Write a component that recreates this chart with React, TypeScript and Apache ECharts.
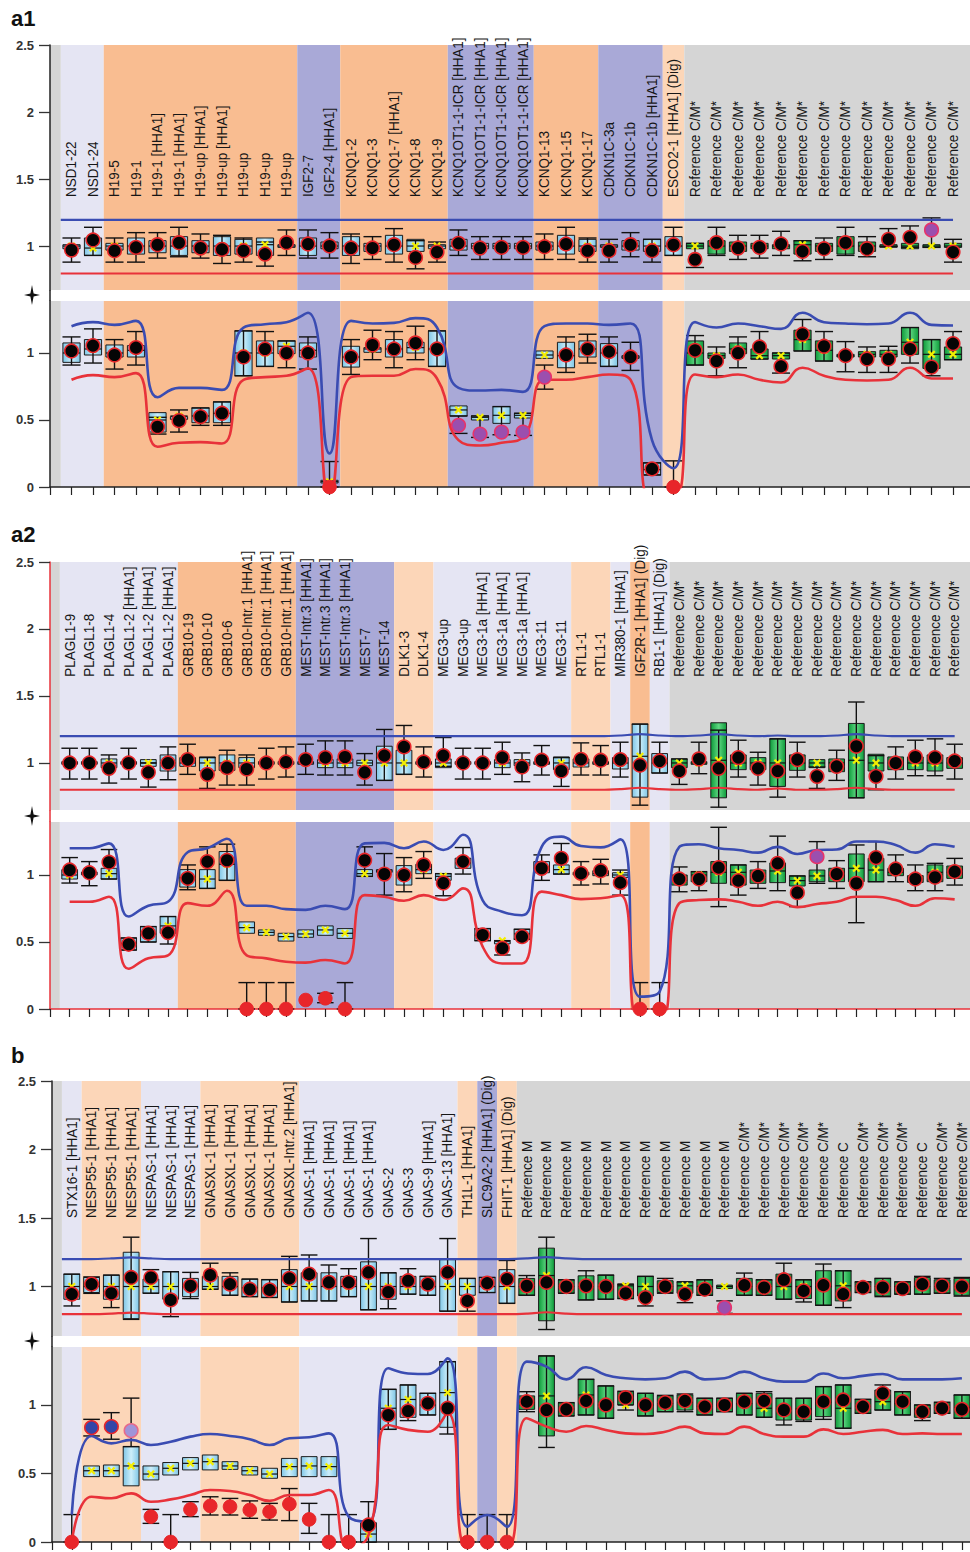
import React, { useEffect, useRef } from "react";
import * as echarts from "echarts";

// Row: [patient value, box low, box high, mean, whisker low, whisker high, dot kind]
type Row = [number | null, number | null, number | null, number | null, number | null, number | null, string];
type Group = [number, number, string];

// ---------------- a1 ----------------
const a1Labels: string[] = [
  "NSD1-22", "NSD1-24", "H19-5", "H19-1", "H19-1 [HHA1]", "H19-1 [HHA1]", "H19-up [HHA1]", "H19-up [HHA1]",
  "H19-up", "H19-up", "H19-up", "IGF2-7", "IGF2-4 [HHA1]", "KCNQ1-2", "KCNQ1-3", "KCNQ1-7 [HHA1]", "KCNQ1-8",
  "KCNQ1-9", "KCNQ1OT1-1-ICR [HHA1]", "KCNQ1OT1-1-ICR [HHA1]", "KCNQ1OT1-1-ICR [HHA1]", "KCNQ1OT1-1-ICR [HHA1]",
  "KCNQ1-13", "KCNQ1-15", "KCNQ1-17", "CDKN1C-3a", "CDKN1C-1b", "CDKN1C-1b [HHA1]", "ESCO2-1 [HHA1] (Dig)",
  "Reference C/M*", "Reference C/M*", "Reference C/M*", "Reference C/M*", "Reference C/M*", "Reference C/M*",
  "Reference C/M*", "Reference C/M*", "Reference C/M*", "Reference C/M*", "Reference C/M*", "Reference C/M*",
  "Reference C/M*",
];
const a1Groups: Group[] = [[0, 1, "L"], [2, 10, "O"], [11, 12, "P"], [13, 17, "O"], [18, 21, "P"], [22, 24, "O"], [25, 27, "P"], [28, 28, "E"], [29, 41, "G"]];
const a1Top: Row[] = [
  [0.97, 0.98, 1.01, 1.0, 0.88, 1.06, "k"], [1.045, 0.93, 1.06, 0.985, 0.93, 1.14, "k"],
  [0.965, 0.97, 1.02, 1.0, 0.88, 1.06, "k"], [0.99, 0.94, 1.06, 1.0, 0.88, 1.1, "k"],
  [1.01, 0.95, 1.04, 1.0, 0.91, 1.1, "k"], [1.025, 0.93, 1.07, 1.0, 0.92, 1.14, "k"],
  [0.985, 0.95, 1.04, 1.0, 0.91, 1.09, "k"], [0.975, 0.93, 1.07, 1.0, 0.87, 1.08, "k"],
  [0.965, 0.94, 1.05, 1.0, 0.88, 1.06, "k"], [0.94, 0.93, 1.06, 1.01, 0.85, 1.03, "k"],
  [1.025, 0.99, 1.01, 1.0, 0.93, 1.12, "k"], [1.015, 0.93, 1.06, 1.0, 0.91, 1.12, "k"],
  [1.0, 0.98, 1.03, 1.0, 0.91, 1.1, "k"], [0.985, 0.93, 1.07, 1.0, 0.87, 1.09, "k"],
  [0.985, 0.96, 1.02, 1.0, 0.9, 1.07, "k"], [1.01, 0.94, 1.08, 1.0, 0.88, 1.13, "k"],
  [0.915, 0.96, 1.05, 1.0, 0.83, 1.04, "k"], [0.955, 0.98, 1.01, 1.0, 0.88, 1.03, "k"],
  [1.02, 0.97, 1.05, 1.0, 0.93, 1.12, "k"], [0.985, 0.98, 1.02, 1.0, 0.9, 1.07, "k"],
  [0.99, 0.98, 1.02, 1.0, 0.9, 1.07, "k"], [0.99, 0.98, 1.02, 1.0, 0.9, 1.07, "k"],
  [0.995, 0.97, 1.03, 1.0, 0.9, 1.09, "k"], [1.015, 0.94, 1.08, 1.0, 0.9, 1.14, "k"],
  [0.965, 0.96, 1.05, 1.0, 0.88, 1.06, "k"], [0.965, 0.99, 1.01, 1.0, 0.88, 1.05, "k"],
  [1.01, 0.97, 1.04, 1.0, 0.92, 1.1, "k"], [0.965, 0.96, 1.05, 1.0, 0.88, 1.05, "k"],
  [1.01, 0.93, 1.07, 1.0, 0.93, 1.14, "k"], [0.9, 0.98, 1.02, 1.0, 0.84, 1.02, "k"],
  [1.025, 0.94, 1.04, 1.0, 0.93, 1.14, "k"], [0.985, 0.96, 1.03, 1.0, 0.9, 1.08, "k"],
  [0.99, 0.98, 1.02, 1.0, 0.91, 1.08, "k"], [1.015, 0.98, 1.01, 1.0, 0.93, 1.11, "k"],
  [0.96, 0.94, 1.04, 1.01, 0.89, 1.04, "k"], [0.98, 0.96, 1.02, 1.0, 0.9, 1.06, "k"],
  [1.025, 0.94, 1.07, 1.0, 0.93, 1.14, "k"], [0.98, 0.96, 1.03, 1.0, 0.92, 1.07, "k"],
  [1.05, 0.995, 1.01, 1.0, 0.995, 1.13, "k"], [1.065, 0.98, 1.02, 1.0, 0.99, 1.15, "k"],
  [1.12, 0.99, 1.01, 1.0, 0.99, 1.21, "p"], [0.955, 0.99, 1.02, 1.0, 0.88, 1.05, "k"],
];
const a1Bottom: Row[] = [
  [1.015, 0.93, 1.075, 1.0, 0.91, 1.12, "k"], [1.055, 0.985, 1.1, 1.03, 0.925, 1.18, "k"],
  [0.985, 0.97, 1.06, 1.0, 0.88, 1.1, "k"], [1.04, 0.97, 1.055, 1.02, 0.91, 1.16, "k"],
  [0.45, 0.41, 0.555, 0.5, 0.395, 0.52, "k"], [0.495, 0.505, 0.525, 0.53, 0.41, 0.575, "k"],
  [0.525, 0.48, 0.59, 0.53, 0.46, 0.59, "k"], [0.55, 0.48, 0.635, 0.55, 0.46, 0.635, "k"],
  [0.97, 0.83, 1.165, 1.0, 0.83, 1.165, "k"], [1.03, 0.9, 1.09, 1.0, 0.9, 1.16, "k"],
  [1.0, 0.995, 1.09, 1.05, 0.89, 1.09, "k"], [1.0, 0.97, 1.075, 1.02, 0.88, 1.12, "k"],
  [0, 0.03, 0.05, 0.04, 0, 0.19, "r"], [0.97, 0.895, 1.05, 0.97, 0.84, 1.1, "k"],
  [1.06, 1.005, 1.04, 1.03, 0.95, 1.17, "k"], [1.03, 0.97, 1.1, 1.03, 0.89, 1.16, "k"],
  [1.075, 1.0, 1.08, 1.04, 0.95, 1.2, "k"], [1.03, 0.9, 1.165, 1.03, 0.9, 1.165, "k"],
  [0.46, 0.53, 0.605, 0.575, 0.4, 0.53, "p"], [0.395, 0.5, 0.53, 0.52, 0.37, 0.53, "p"],
  [0.41, 0.475, 0.6, 0.535, 0.39, 0.6, "p"], [0.41, 0.515, 0.55, 0.535, 0.385, 0.55, "p"],
  [0.82, 0.96, 1.015, 0.985, 0.73, 0.91, "p"], [0.985, 0.89, 1.08, 0.98, 0.855, 1.12, "k"],
  [1.03, 0.97, 1.09, 1.03, 0.925, 1.14, "k"], [1.01, 0.9, 1.07, 1.0, 0.9, 1.12, "k"],
  [0.97, 0.96, 0.98, 0.97, 0.87, 1.08, "k"], [0.135, 0.09, 0.18, 0.13, 0.09, 0.18, "k"],
  [0, null, null, null, 0, 0.195, "r"], [1.02, 0.91, 1.09, 1.0, 0.91, 1.13, "k"],
  [0.94, 0.96, 1.0, 0.98, 0.83, 1.045, "k"], [1.0, 0.995, 1.075, 1.03, 0.89, 1.12, "k"],
  [1.045, 0.955, 1.03, 0.98, 0.955, 1.16, "k"], [0.9, 0.955, 1.0, 0.98, 0.85, 1.0, "k"],
  [1.14, 1.015, 1.17, 1.1, 1.015, 1.25, "k"], [1.05, 0.94, 1.09, 1.02, 0.94, 1.16, "k"],
  [0.98, 0.97, 0.99, 0.98, 0.86, 1.085, "k"], [0.955, 0.97, 1.01, 0.99, 0.855, 1.045, "k"],
  [0.955, 0.97, 1.02, 0.99, 0.855, 1.05, "k"], [1.03, 0.99, 1.19, 1.08, 0.925, 1.19, "k"],
  [0.895, 0.885, 1.1, 0.99, 0.83, 1.1, "k"], [1.07, 0.95, 1.045, 0.99, 0.95, 1.16, "k"],
];
const a1TopBlue: number[] = [
  1.195, 1.195, 1.195, 1.195, 1.195, 1.195, 1.195, 1.195, 1.195, 1.195, 1.195, 1.195, 1.195, 1.195,
  1.195, 1.195, 1.195, 1.195, 1.195, 1.195, 1.195, 1.195, 1.195, 1.195, 1.195, 1.195, 1.195, 1.195,
  1.195, 1.195, 1.195, 1.195, 1.195, 1.195, 1.195, 1.195, 1.195, 1.195, 1.195, 1.195, 1.195, 1.195,
];
const a1TopRed: number[] = [
  0.795, 0.795, 0.795, 0.795, 0.795, 0.795, 0.795, 0.795, 0.795, 0.795, 0.795, 0.795, 0.795, 0.795,
  0.795, 0.795, 0.795, 0.795, 0.795, 0.795, 0.795, 0.795, 0.795, 0.795, 0.795, 0.795, 0.795, 0.795,
  0.795, 0.795, 0.795, 0.795, 0.795, 0.795, 0.795, 0.795, 0.795, 0.795, 0.795, 0.795, 0.795, 0.795,
];
const a1BottomBlue: number[] = [
  1.2, 1.23, 1.21, 1.24, 0.67, 0.74, 0.74, 0.725, 1.19, 1.215, 1.23, 1.3, 0.25, 1.24,
  1.22, 1.225, 1.26, 1.19, 0.74, 0.72, 0.725, 0.71, 1.2, 1.22, 1.22, 1.21, 1.22, 0.35,
  0.14, 1.23, 1.19, 1.22, 1.2, 1.18, 1.3, 1.23, 1.22, 1.215, 1.22, 1.3, 1.21, 1.205,
];
const a1BottomRed: number[] = [
  0.8, 0.835, 0.82, 0.85, 0.3, 0.33, 0.335, 0.325, 0.8, 0.82, 0.83, 0.885, -0.08, 0.82,
  0.83, 0.83, 0.88, 0.81, 0.35, 0.31, 0.33, 0.37, 0.8, 0.8, 0.82, 0.84, 0.8, -0.1,
  -0.1, 0.84, 0.82, 0.84, 0.8, 0.78, 0.89, 0.83, 0.8, 0.795, 0.8, 0.89, 0.81, 0.81,
];

// ---------------- a2 ----------------
const a2Labels: string[] = [
  "PLAGL1-9", "PLAGL1-8", "PLAGL1-4", "PLAGL1-2 [HHA1]", "PLAGL1-2 [HHA1]", "PLAGL1-2 [HHA1]",
  "GRB10-19", "GRB10-10", "GRB10-6", "GRB10-Intr.1 [HHA1]", "GRB10-Intr.1 [HHA1]", "GRB10-Intr.1 [HHA1]",
  "MEST-Intr.3 [HHA1]", "MEST-Intr.3 [HHA1]", "MEST-Intr.3 [HHA1]", "MEST-7", "MEST-14", "DLK1-3", "DLK1-4",
  "MEG3-up", "MEG3-up", "MEG3-1a [HHA1]", "MEG3-1a [HHA1]", "MEG3-1a [HHA1]", "MEG3-11", "MEG3-11",
  "RTL1-1", "RTL1-1", "MIR380-1 [HHA1]", "IGF2R-1 [HHA1] (Dig)", "RB1-1 [HHA1] (Dig)",
  "Reference C/M*", "Reference C/M*", "Reference C/M*", "Reference C/M*", "Reference C/M*",
  "Reference C/M*", "Reference C/M*", "Reference C/M*", "Reference C/M*", "Reference C/M*",
  "Reference C/M*", "Reference C/M*", "Reference C/M*", "Reference C/M*", "Reference C/M*",
];
const a2Groups: Group[] = [[0, 5, "L"], [6, 11, "O"], [12, 16, "P"], [17, 18, "E"], [19, 25, "L"], [26, 27, "E"], [28, 28, "L"], [29, 29, "O"], [30, 30, "L"], [31, 45, "G"]];
const a2Top: Row[] = [
  [1.0, 0.99, 1.01, 1.0, 0.88, 1.11, "k"], [1.0, 0.99, 1.01, 1.0, 0.88, 1.11, "k"],
  [0.96, 0.965, 1.03, 1.0, 0.85, 1.06, "k"], [1.0, 0.99, 1.01, 1.0, 0.88, 1.11, "k"],
  [0.93, 0.975, 1.025, 1.0, 0.82, 1.0, "k"], [1.0, 0.94, 1.06, 1.0, 0.875, 1.12, "k"],
  [1.025, 0.975, 1.04, 1.0, 0.915, 1.14, "k"], [0.915, 0.94, 1.045, 1.0, 0.81, 1.04, "k"],
  [0.965, 0.945, 1.06, 1.0, 0.835, 1.095, "k"], [0.955, 0.965, 1.04, 1.0, 0.835, 1.06, "k"],
  [1.0, 0.99, 1.01, 1.0, 0.88, 1.11, "k"], [1.007, 0.99, 1.01, 1.0, 0.895, 1.12, "k"],
  [1.025, 0.99, 1.01, 1.0, 0.915, 1.14, "k"], [1.04, 0.965, 1.025, 1.0, 0.91, 1.165, "k"],
  [1.045, 0.965, 1.03, 1.0, 0.91, 1.165, "k"], [0.93, 0.98, 1.02, 1.0, 0.835, 1.07, "k"],
  [1.055, 0.87, 1.125, 1.0, 0.87, 1.25, "k"], [1.12, 0.915, 1.095, 1.0, 0.915, 1.28, "k"],
  [1.007, 0.99, 1.01, 1.0, 0.895, 1.12, "k"], [1.055, 0.965, 1.03, 1.0, 0.975, 1.19, "k"],
  [1.0, 0.99, 1.01, 1.0, 0.88, 1.11, "k"], [1.0, 0.99, 1.01, 1.0, 0.88, 1.11, "k"],
  [1.04, 0.965, 1.025, 1.0, 0.915, 1.155, "k"], [0.97, 0.98, 1.025, 1.0, 0.86, 1.075, "k"],
  [1.02, 0.99, 1.01, 1.0, 0.91, 1.13, "k"], [0.94, 0.95, 1.045, 1.0, 0.825, 1.04, "k"],
  [1.027, 0.97, 1.03, 1.0, 0.91, 1.15, "k"], [1.02, 0.99, 1.01, 1.0, 0.91, 1.13, "k"],
  [1.025, 0.955, 1.04, 1.0, 0.895, 1.155, "k"], [0.983, 0.745, 1.29, 1.05, 0.685, 1.29, "k"],
  [1.015, 0.925, 1.07, 1.0, 0.925, 1.155, "k"], [0.94, 0.965, 1.03, 1.0, 0.84, 1.03, "k"],
  [1.03, 0.99, 1.01, 1.0, 0.92, 1.155, "k"], [0.96, 0.74, 1.3, 1.02, 0.67, 1.245, "k"],
  [1.04, 0.95, 1.06, 1.0, 0.895, 1.17, "k"], [0.96, 0.95, 1.04, 1.0, 0.835, 1.08, "k"],
  [0.94, 0.825, 1.18, 1.0, 0.745, 1.18, "k"], [1.025, 0.945, 1.06, 1.0, 0.895, 1.155, "k"],
  [0.9, 0.965, 1.025, 1.0, 0.81, 0.97, "k"], [0.975, 0.935, 1.03, 1.0, 0.87, 1.095, "k"],
  [1.125, 0.74, 1.295, 1.02, 0.74, 1.455, "k"], [0.9, 0.94, 1.065, 1.0, 0.8, 1.055, "k"],
  [1.0, 0.95, 1.045, 1.0, 0.88, 1.12, "k"], [1.045, 0.95, 1.045, 1.0, 0.905, 1.17, "k"],
  [1.04, 0.94, 1.06, 1.0, 0.905, 1.18, "k"], [1.015, 0.96, 1.04, 1.0, 0.88, 1.14, "k"],
];
const a2Bottom: Row[] = [
  [1.037, 0.97, 1.04, 1.0, 0.94, 1.13, "k"], [1.017, 1.01, 1.02, 1.02, 0.92, 1.1, "k"],
  [1.095, 0.97, 1.05, 1.01, 0.97, 1.19, "k"], [0.483, 0.44, 0.53, 0.49, 0.44, 0.53, "k"],
  [0.565, 0.5, 0.615, 0.56, 0.5, 0.615, "k"], [0.57, 0.565, 0.69, 0.62, 0.485, 0.69, "k"],
  [0.975, 0.91, 1.04, 0.98, 0.89, 1.075, "k"], [1.1, 0.9, 1.04, 0.97, 0.9, 1.21, "k"],
  [1.11, 0.96, 1.175, 1.08, 0.96, 1.23, "k"], [0, 0.565, 0.65, 0.607, 0, 0.197, "r"],
  [0, 0.55, 0.59, 0.572, 0, 0.197, "r"], [0, 0.507, 0.565, 0.54, 0, 0.197, "r"],
  [0.067, 0.535, 0.59, 0.56, null, null, "r"], [0.08, 0.55, 0.62, 0.59, 0.047, 0.117, "r"],
  [0, 0.527, 0.6, 0.565, 0, 0.197, "r"], [1.11, 0.99, 1.04, 1.01, 0.99, 1.21, "k"],
  [1.007, 1.02, 1.04, 1.03, 0.85, 1.16, "k"], [1.0, 0.925, 1.07, 1.0, 0.875, 1.13, "k"],
  [1.075, 1.01, 1.08, 1.04, 0.975, 1.175, "k"], [0.94, 0.96, 1.01, 0.99, 0.845, 1.01, "k"],
  [1.1, 1.05, 1.125, 1.09, 1.007, 1.205, "k"], [0.552, 0.51, 0.6, 0.55, 0.51, 0.6, "k"],
  [0.453, 0.49, 0.505, 0.51, 0.403, 0.51, "k"], [0.54, 0.52, 0.595, 0.56, 0.52, 0.595, "k"],
  [1.05, 1.017, 1.1, 1.05, 0.96, 1.15, "k"], [1.124, 1.007, 1.075, 1.04, 1.007, 1.235, "k"],
  [1.012, 1.0, 1.02, 1.01, 0.925, 1.1, "k"], [1.032, 0.995, 1.032, 1.01, 0.933, 1.117, "k"],
  [0.943, 0.982, 1.017, 1.0, 0.85, 1.037, "k"], [0, null, null, null, 0, 0.197, "r"],
  [0, null, null, null, 0, 0.197, "r"], [0.97, 0.925, 1.0, 0.96, 0.875, 1.06, "k"],
  [0.97, 0.95, 1.025, 1.0, 0.883, 1.025, "k"], [1.055, 0.938, 1.1, 1.02, 0.764, 1.356, "k"],
  [0.958, 0.925, 1.075, 1.02, 0.85, 1.075, "k"], [0.993, 0.938, 1.037, 0.99, 0.9, 1.1, "k"],
  [1.087, 0.943, 1.09, 1.03, 0.883, 1.29, "k"], [0.868, 0.918, 0.993, 0.958, 0.764, 0.993, "k"],
  [1.137, 0.95, 1.037, 0.993, 0.938, 1.249, "p"], [1.007, 0.95, 1.05, 1.0, 0.9, 1.107, "k"],
  [0.938, 0.95, 1.157, 1.05, 0.644, 1.224, "k"], [1.13, 0.95, 1.124, 1.037, 0.95, 1.249, "k"],
  [1.045, 0.995, 1.05, 1.02, 0.95, 1.15, "k"], [0.97, 0.945, 0.995, 0.97, 0.883, 1.075, "k"],
  [0.983, 0.95, 1.075, 1.02, 0.883, 1.087, "k"], [1.025, 0.975, 1.067, 1.02, 0.925, 1.124, "k"],
];
const a2TopBlue: number[] = [
  1.2, 1.2, 1.2, 1.2, 1.2, 1.2, 1.2, 1.2, 1.2, 1.2, 1.2, 1.2, 1.2, 1.2, 1.2, 1.2,
  1.2, 1.2, 1.2, 1.2, 1.2, 1.2, 1.2, 1.2, 1.2, 1.2, 1.2, 1.2, 1.205, 1.215, 1.205, 1.2,
  1.205, 1.215, 1.205, 1.2, 1.205, 1.2, 1.2, 1.205, 1.215, 1.205, 1.2, 1.2, 1.2, 1.2,
];
const a2TopRed: number[] = [
  0.8, 0.8, 0.8, 0.8, 0.8, 0.8, 0.8, 0.8, 0.8, 0.8, 0.8, 0.8, 0.8, 0.8, 0.8, 0.8,
  0.8, 0.8, 0.8, 0.8, 0.8, 0.8, 0.8, 0.8, 0.8, 0.8, 0.8, 0.8, 0.805, 0.815, 0.805, 0.8,
  0.805, 0.815, 0.805, 0.8, 0.81, 0.8, 0.8, 0.805, 0.815, 0.805, 0.8, 0.8, 0.8, 0.8,
];
const a2BottomBlue: number[] = [
  1.2, 1.2, 1.236, 0.69, 0.77, 0.8, 1.17, 1.2, 1.27, 0.77, 0.77, 0.745, 0.74, 0.77, 0.745, 1.236,
  1.24, 1.2, 1.25, 1.187, 1.3, 0.81, 0.726, 0.7, 1.21, 1.286, 1.216, 1.206, 1.266, 0.092, 0.13, 1.21,
  1.23, 1.2, 1.187, 1.167, 1.21, 1.157, 1.187, 1.19, 1.25, 1.25, 1.224, 1.167, 1.23, 1.21,
];
const a2BottomRed: number[] = [
  0.8, 0.8, 0.838, 0.3, 0.378, 0.4, 0.79, 0.77, 0.883, 0.4, 0.378, 0.353, 0.346, 0.366, 0.34, 0.85,
  0.838, 0.808, 0.85, 0.813, 0.9, 0.465, 0.34, 0.34, 0.876, 0.85, 0.82, 0.826, 0.85, -0.1, -0.1, 0.79,
  0.813, 0.818, 0.8, 0.77, 0.8, 0.76, 0.784, 0.8, 0.838, 0.838, 0.813, 0.77, 0.826, 0.818,
];

// ---------------- b ----------------
const bLabels: string[] = [
  "STX16-1 [HHA1]", "NESP55-1 [HHA1]", "NESP55-1 [HHA1]", "NESP55-1 [HHA1]", "NESPAS-1 [HHA1]",
  "NESPAS-1 [HHA1]", "NESPAS-1 [HHA1]", "GNASXL-1 [HHA1]", "GNASXL-1 [HHA1]", "GNASXL-1 [HHA1]",
  "GNASXL-1 [HHA1]", "GNASXL-Intr.2 [HHA1]", "GNAS-1 [HHA1]", "GNAS-1 [HHA1]", "GNAS-1 [HHA1]",
  "GNAS-1 [HHA1]", "GNAS-2", "GNAS-3", "GNAS-9 [HHA1]", "GNAS-13 [HHA1]", "TH1L-1 [HHA1]",
  "SLC9A2-2 [HHA1] (Dig)", "FHIT-1 [HHA1] (Dig)",
  "Reference M", "Reference M", "Reference M", "Reference M", "Reference M", "Reference M",
  "Reference M", "Reference M", "Reference M", "Reference M", "Reference M",
  "Reference C/M*", "Reference C/M*", "Reference C/M*", "Reference C/M*", "Reference C/M*", "Reference C",
  "Reference C/M*", "Reference C/M*", "Reference C/M*", "Reference C", "Reference C/M*", "Reference C/M*",
];
const bGroups: Group[] = [[0, 0, "L"], [1, 3, "E"], [4, 6, "L"], [7, 11, "E"], [12, 19, "L"], [20, 20, "E"], [21, 21, "P"], [22, 22, "E"], [23, 45, "G"]];
const bTop: Row[] = [
  [0.944, 0.907, 1.09, 1.0, 0.858, 1.09, "k"], [1.017, 0.956, 1.066, 1.0, 0.95, 1.07, "k"],
  [0.951, 0.907, 1.083, 1.0, 0.846, 1.083, "k"], [1.066, 0.765, 1.25, 1.0, 0.76, 1.36, "k"],
  [1.066, 0.951, 1.054, 1.0, 0.951, 1.123, "k"], [0.902, 0.907, 1.108, 1.0, 0.78, 1.108, "k"],
  [1.005, 0.926, 1.059, 1.0, 0.912, 1.103, "k"], [1.083, 0.98, 1.074, 1.0, 0.98, 1.17, "k"],
  [1.017, 0.936, 1.074, 1.0, 0.936, 1.1, "k"], [0.98, 0.926, 1.054, 0.99, 0.926, 1.054, "k"],
  [0.975, 0.92, 1.05, 0.99, 0.92, 1.05, "k"], [1.059, 0.887, 1.123, 1.0, 0.887, 1.22, "k"],
  [1.09, 0.895, 1.1, 1.0, 0.895, 1.23, "k"], [1.03, 0.895, 1.1, 1.0, 0.895, 1.157, "k"],
  [1.03, 0.926, 1.074, 1.0, 0.926, 1.13, "k"], [1.103, 0.83, 1.18, 1.0, 0.83, 1.35, "k"],
  [0.96, 0.907, 1.1, 1.0, 0.838, 1.1, "k"], [1.042, 0.944, 1.074, 1.0, 0.944, 1.13, "k"],
  [1.017, 0.936, 1.074, 1.0, 0.936, 1.074, "k"], [1.103, 0.82, 1.196, 1.0, 0.82, 1.35, "k"],
  [0.895, 0.936, 1.059, 1.0, 0.82, 1.059, "k"], [1.025, 0.956, 1.066, 1.0, 0.956, 1.066, "k"],
  [1.054, 0.877, 1.123, 1.0, 0.877, 1.19, "k"], [1.005, 0.936, 1.059, 1.0, 0.936, 1.08, "k"],
  [1.03, 0.75, 1.28, 1.08, 0.686, 1.36, "k"], [1.0, 0.951, 1.049, 1.0, 0.951, 1.049, "k"],
  [1.005, 0.902, 1.078, 1.0, 0.902, 1.115, "k"], [1.0, 0.907, 1.083, 1.0, 0.907, 1.083, "k"],
  [0.951, 0.912, 1.017, 1.005, 0.912, 1.017, "k"], [0.919, 0.931, 1.074, 1.0, 0.858, 1.074, "k"],
  [1.0, 0.956, 1.042, 1.0, 0.951, 1.059, "k"], [0.944, 0.951, 1.034, 1.005, 0.882, 1.034, "k"],
  [0.98, 0.936, 1.049, 1.0, 0.936, 1.049, "k"], [0.846, 0.985, 1.01, 1.0, 0.804, 0.895, "p"],
  [1.01, 0.936, 1.059, 1.0, 0.936, 1.098, "k"], [0.993, 0.936, 1.049, 1.0, 0.936, 1.049, "k"],
  [1.049, 0.907, 1.09, 1.0, 0.907, 1.17, "k"], [0.968, 0.912, 1.049, 1.0, 0.887, 1.049, "k"],
  [1.01, 0.863, 1.115, 1.0, 0.863, 1.164, "k"], [0.944, 0.895, 1.115, 1.005, 0.846, 1.115, "k"],
  [0.993, 0.956, 1.034, 1.0, 0.956, 1.034, "k"], [0.993, 0.931, 1.059, 1.0, 0.926, 1.059, "k"],
  [0.985, 0.944, 1.034, 1.0, 0.944, 1.034, "k"], [1.017, 0.944, 1.066, 1.0, 0.944, 1.074, "k"],
  [1.005, 0.951, 1.049, 1.0, 0.951, 1.059, "k"], [1.0, 0.936, 1.059, 1.0, 0.93, 1.066, "k"],
];
const bBottom: Row[] = [
  [0, null, null, null, 0, 0.2, "r"], [0.835, 0.477, 0.555, 0.52, 0.774, 0.895, "b"],
  [0.842, 0.477, 0.562, 0.52, 0.75, 0.944, "b"], [0.813, 0.41, 0.696, 0.555, 0.696, 1.05, "l"],
  [0.185, 0.453, 0.555, 0.496, 0.136, 0.238, "r"], [0, 0.489, 0.58, 0.538, 0, 0.2, "r"],
  [0.238, 0.526, 0.616, 0.574, 0.185, 0.294, "r"], [0.263, 0.526, 0.635, 0.586, 0.197, 0.33, "r"],
  [0.258, 0.53, 0.586, 0.555, 0.197, 0.318, "r"], [0.234, 0.489, 0.55, 0.52, 0.173, 0.3, "r"],
  [0.221, 0.465, 0.538, 0.496, 0.16, 0.282, "r"], [0.277, 0.477, 0.61, 0.55, 0.156, 0.39, "r"],
  [0.165, 0.477, 0.623, 0.555, 0.063, 0.282, "r"], [0, 0.477, 0.623, 0.55, 0, 0.2, "r"],
  [0, null, null, null, 0, 0.2, "r"], [0.124, 0, 0.141, 0.058, 0, 0.294, "k"],
  [0.927, 0.822, 1.114, 0.976, 0.822, 1.114, "k"], [0.956, 0.91, 1.146, 1.04, 0.886, 1.146, "k"],
  [1.012, 0.927, 1.085, 1.0, 0.927, 1.085, "k"], [0.976, 0.837, 1.316, 1.09, 0.788, 1.316, "k"],
  [0, null, null, null, 0, 0.2, "r"], [0, null, null, null, 0, 0.2, "r"],
  [0, null, null, null, 0, 0.2, "r"], [1.024, 0.968, 1.066, 1.02, 0.951, 1.097, "k"],
  [0.963, 0.774, 1.358, 1.066, 0.69, 1.358, "k"], [0.968, 0.92, 1.017, 0.97, 0.92, 1.017, "k"],
  [1.03, 0.927, 1.187, 1.073, 0.927, 1.187, "k"], [1.0, 0.903, 1.139, 1.0, 0.903, 1.139, "k"],
  [1.053, 1.0, 1.097, 1.0, 0.963, 1.1, "k"], [1.0, 0.92, 1.085, 1.0, 0.92, 1.085, "k"],
  [1.017, 0.951, 1.066, 1.01, 0.951, 1.07, "k"], [1.03, 0.963, 1.073, 1.02, 0.951, 1.08, "k"],
  [0.988, 0.927, 1.049, 0.99, 0.927, 1.049, "k"], [1.0, 0.951, 1.049, 1.0, 0.951, 1.049, "k"],
  [1.024, 0.927, 1.085, 1.01, 0.927, 1.085, "k"], [1.03, 0.91, 1.085, 0.976, 0.91, 1.097, "k"],
  [0.963, 0.89, 1.049, 0.97, 0.854, 1.049, "k"], [0.951, 0.89, 1.049, 0.97, 0.88, 1.049, "k"],
  [1.024, 0.915, 1.134, 1.02, 0.895, 1.134, "k"], [1.036, 0.83, 1.146, 0.976, 0.83, 1.146, "k"],
  [0.988, 0.939, 1.041, 0.99, 0.939, 1.041, "k"], [1.085, 0.963, 1.109, 1.024, 0.963, 1.146, "k"],
  [1.024, 0.927, 1.097, 1.01, 0.927, 1.097, "k"], [0.951, 0.91, 1.0, 0.97, 0.886, 1.0, "k"],
  [0.976, 0.939, 1.017, 0.98, 0.939, 1.02, "k"], [0.968, 0.903, 1.073, 0.98, 0.903, 1.073, "k"],
];
const bTopBlue: number[] = [
  1.2, 1.2, 1.205, 1.212, 1.205, 1.2, 1.2, 1.2, 1.2, 1.2, 1.2, 1.2, 1.2, 1.2, 1.2, 1.2,
  1.2, 1.2, 1.2, 1.2, 1.2, 1.2, 1.2, 1.205, 1.215, 1.205, 1.2, 1.2, 1.2, 1.2, 1.2, 1.2,
  1.2, 1.2, 1.2, 1.2, 1.2, 1.2, 1.2, 1.2, 1.2, 1.2, 1.2, 1.2, 1.2, 1.2,
];
const bTopRed: number[] = [
  0.798, 0.798, 0.802, 0.81, 0.802, 0.798, 0.798, 0.798, 0.798, 0.798, 0.798, 0.798, 0.798, 0.798, 0.798, 0.798,
  0.798, 0.798, 0.798, 0.798, 0.798, 0.798, 0.798, 0.802, 0.812, 0.802, 0.798, 0.798, 0.798, 0.798, 0.798, 0.798,
  0.798, 0.798, 0.798, 0.798, 0.798, 0.798, 0.798, 0.798, 0.798, 0.798, 0.798, 0.798, 0.798, 0.798,
];
const bBottomBlue: number[] = [
  0.2, 0.774, 0.72, 0.745, 0.708, 0.732, 0.769, 0.788, 0.774, 0.75, 0.708, 0.757, 0.764, 0.793, 0.185, 0.148,
  1.268, 1.23, 1.226, 1.34, 0.112, 0.197, 0.112, 1.316, 1.28, 1.187, 1.275, 1.219, 1.195, 1.187, 1.195, 1.243,
  1.187, 1.195, 1.243, 1.195, 1.17, 1.17, 1.23, 1.195, 1.212, 1.226, 1.187, 1.187, 1.187, 1.195,
];
const bBottomRed: number[] = [
  0.0, 0.33, 0.319, 0.355, 0.294, 0.311, 0.343, 0.38, 0.372, 0.343, 0.3, 0.343, 0.343, 0.38, -0.05, 0.05,
  0.854, 0.818, 0.805, 0.939, -0.05, -0.05, -0.05, 0.903, 0.842, 0.805, 0.847, 0.818, 0.793, 0.788, 0.805, 0.842,
  0.793, 0.788, 0.842, 0.788, 0.769, 0.769, 0.822, 0.788, 0.805, 0.818, 0.788, 0.793, 0.788, 0.788,
];

const topTicks = [1, 1.5, 2, 2.5];
const bottomTicks = [0, 0.5, 1];

// ---------------- styling / layout ----------------
const BAND_COLORS: Record<string, string> = { L: "#e5e5f3", O: "#f9bd91", P: "#a9a9d7", E: "#fcd6b8", G: "#d5d5d5" };
const BLUE = "#3a4cb2";
const RED = "#e8323a";
const FONT = "Liberation Sans, Arial, Helvetica, sans-serif";

interface Panel {
  name: string; labels: string[]; groups: Group[]; top: Row[]; bottom: Row[];
  topBlue: number[]; topRed: number[]; bottomBlue: number[]; bottomRed: number[];
  refStart: number; left: number; width: number; xMax: number;
  topGrid: [number, number]; bottomGrid: [number, number];
  topRange: [number, number]; bottomRange: [number, number];
  labelBase: number; axisColor: string; letterY: number; starY: number;
}

const panels: Panel[] = [
  {
    name: "a1", labels: a1Labels, groups: a1Groups, top: a1Top, bottom: a1Bottom,
    topBlue: a1TopBlue, topRed: a1TopRed, bottomBlue: a1BottomBlue, bottomRed: a1BottomRed,
    refStart: 29, left: 50, width: 920, xMax: 41.79,
    topGrid: [45, 245], bottomGrid: [301, 186], topRange: [0.672, 2.5], bottomRange: [0, 1.388],
    labelBase: 1.366, axisColor: "#222", letterY: 7, starY: 295,
  },
  {
    name: "a2", labels: a2Labels, groups: a2Groups, top: a2Top, bottom: a2Bottom,
    topBlue: a2TopBlue, topRed: a2TopRed, bottomBlue: a2BottomBlue, bottomRed: a2BottomRed,
    refStart: 31, left: 50, width: 920, xMax: 45.78,
    topGrid: [562, 248], bottomGrid: [822, 187], topRange: [0.649, 2.5], bottomRange: [0, 1.3955],
    labelBase: 1.644, axisColor: "#e8323a", letterY: 523, starY: 816,
  },
  {
    name: "b", labels: bLabels, groups: bGroups, top: bTop, bottom: bBottom,
    topBlue: bTopBlue, topRed: bTopRed, bottomBlue: bBottomBlue, bottomRed: bBottomRed,
    refStart: 23, left: 52, width: 918, xMax: 45.41,
    topGrid: [1081, 255], bottomGrid: [1347, 195], topRange: [0.6387, 2.5], bottomRange: [0, 1.423],
    labelBase: 1.5, axisColor: "#222", letterY: 1044, starY: 1341,
  },
];

const blueFill = () =>
  new echarts.graphic.LinearGradient(0, 0, 1, 0, [
    { offset: 0, color: "#7fc6e6" }, { offset: 0.5, color: "#cdeefa" }, { offset: 1, color: "#7fc6e6" },
  ]);
const greenFill = () =>
  new echarts.graphic.LinearGradient(0, 0, 1, 0, [
    { offset: 0, color: "#0d9a3a" }, { offset: 0.5, color: "#5fd882" }, { offset: 1, color: "#0d9a3a" },
  ]);

const DOT_STYLES: Record<string, any> = {
  k: { fill: "#050505", stroke: "#e8262a", lineWidth: 1.6 },
  p: { fill: "#9b4fae", stroke: "#e8336a", lineWidth: 1.6 },
  r: { fill: "#e8262a", stroke: "#e8262a", lineWidth: 1 },
  b: { fill: "#3446a8", stroke: "#e8262a", lineWidth: 1.6 },
  l: { fill: "#a094d8", stroke: "#e86a8a", lineWidth: 1.6 },
};

function bandSeries(p: Panel, axis: number) {
  return {
    type: "custom", xAxisIndex: axis, yAxisIndex: axis, z: 0, silent: true,
    data: p.groups.map((g) => [g[0], 0]),
    renderItem: (params: any, api: any) => {
      const cs = params.coordSys;
      const g = p.groups[params.dataIndex];
      const x0 = api.coord([g[0] - 0.5, 0])[0];
      const last = params.dataIndex === p.groups.length - 1;
      const x1 = last ? cs.x + cs.width : api.coord([g[1] + 0.5, 0])[0];
      const children: any[] = [
        { type: "rect", shape: { x: x0, y: cs.y, width: x1 - x0, height: cs.height }, style: { fill: BAND_COLORS[g[2]] } },
      ];
      if (params.dataIndex === 0) {
        children.push({ type: "rect", shape: { x: cs.x, y: cs.y, width: x0 - cs.x, height: cs.height }, style: { fill: BAND_COLORS.G } });
      }
      return { type: "group", children };
    },
  };
}

function labelSeries(p: Panel, axis: number) {
  return {
    type: "custom", xAxisIndex: axis, yAxisIndex: axis, z: 1, silent: true,
    data: p.labels.map((_, i) => [i, p.labelBase]),
    renderItem: (params: any, api: any) => {
      const i = params.dataIndex;
      const pt = api.coord([i, p.labelBase]);
      return {
        type: "text", x: pt[0] - 0.5, y: pt[1], rotation: Math.PI / 2, scaleY: 1.15,
        style: { text: p.labels[i], fontSize: 13.5, fontFamily: FONT, fill: "#161616", align: "left", verticalAlign: "middle" },
      };
    },
  };
}

function boxSeries(rows: Row[], p: Panel, axis: number) {
  return {
    type: "custom", xAxisIndex: axis, yAxisIndex: axis, z: 2, silent: true,
    data: rows.map((r, i) => [i, r[0] == null ? 1 : r[0]]),
    renderItem: (params: any, api: any) => {
      const i = params.dataIndex;
      const r = rows[i];
      const unit = api.size([1, 0])[0];
      const cx = api.coord([i, 0])[0];
      const hw = unit * 0.4;
      const cw = unit * 0.42;
      const ch: any[] = [];
      if (r[1] != null && r[2] != null) {
        const yT = api.coord([i, r[2]])[1];
        const yB = api.coord([i, r[1]])[1];
        ch.push({
          type: "rect", shape: { x: cx - hw, y: yT, width: hw * 2, height: Math.max(yB - yT, 2.5) },
          style: { fill: i >= p.refStart ? greenFill() : blueFill(), stroke: "#1c1c1c", lineWidth: 1 },
        });
        if (r[3] != null) {
          const ym = api.coord([i, r[3]])[1];
          ch.push({ type: "line", shape: { x1: cx - hw, y1: ym, x2: cx + hw, y2: ym }, style: { stroke: "#111", lineWidth: 1.2 } });
        }
      }
      if (r[4] != null && r[5] != null) {
        const y1 = api.coord([i, r[4]])[1];
        const y2 = api.coord([i, r[5]])[1];
        const st = { stroke: "#111", lineWidth: 1.4 };
        ch.push({ type: "line", shape: { x1: cx, y1, x2: cx, y2 }, style: st });
        ch.push({ type: "line", shape: { x1: cx - cw, y1, x2: cx + cw, y2: y1 }, style: st });
        ch.push({ type: "line", shape: { x1: cx - cw, y1: y2, x2: cx + cw, y2 }, style: st });
      }
      if (r[3] != null && r[1] != null) {
        const ym = api.coord([i, r[3]])[1];
        const s = 3.2;
        const yst = { stroke: "#f4ee00", lineWidth: 2.2 };
        ch.push({ type: "line", shape: { x1: cx - s, y1: ym - s, x2: cx + s, y2: ym + s }, style: yst });
        ch.push({ type: "line", shape: { x1: cx - s, y1: ym + s, x2: cx + s, y2: ym - s }, style: yst });
      }
      return { type: "group", children: ch };
    },
  };
}

function dotSeries(rows: Row[], axis: number) {
  return {
    type: "custom", xAxisIndex: axis, yAxisIndex: axis, z: 4, silent: true,
    data: rows.map((r, i) => [i, r[0] == null ? 1 : r[0]]),
    renderItem: (params: any, api: any) => {
      const i = params.dataIndex;
      const r = rows[i];
      if (r[0] == null) return null;
      const pt = api.coord([i, r[0]]);
      return { type: "circle", shape: { cx: pt[0], cy: pt[1], r: 6.8 }, style: DOT_STYLES[r[6]] };
    },
  };
}

function lineSeries(values: number[], color: string, axis: number, isTop: boolean) {
  const data: number[][] = values.map((v, i) => [i, v]);
  if (isTop) data.unshift([-0.5, values[0]]);
  return {
    type: "line", xAxisIndex: axis, yAxisIndex: axis, z: 3, silent: true,
    data, smooth: isTop ? 0.2 : 0.5, symbol: "none",
    lineStyle: { color, width: isTop ? 2.2 : 2.6 },
  };
}

function starPoints(cx: number, cy: number) {
  return [
    [cx, cy - 10], [cx + 1.6, cy - 1.6], [cx + 8, cy], [cx + 1.6, cy + 1.6],
    [cx, cy + 10], [cx - 1.6, cy + 1.6], [cx - 8, cy], [cx - 1.6, cy - 1.6],
  ];
}

function buildOption() {
  const grid: any[] = [];
  const xAxis: any[] = [];
  const yAxis: any[] = [];
  const series: any[] = [];
  const graphic: any[] = [];

  panels.forEach((p, k) => {
    const t = k * 2;
    const b = t + 1;
    grid.push({ left: p.left, top: p.topGrid[0], width: p.width, height: p.topGrid[1] });
    grid.push({ left: p.left, top: p.bottomGrid[0], width: p.width, height: p.bottomGrid[1] });
    const xTicks = [-1, ...p.labels.map((_, i) => i)];
    xAxis.push({ gridIndex: t, type: "value", min: -1, max: p.xMax, show: false });
    xAxis.push({
      gridIndex: b, type: "value", min: -1, max: p.xMax,
      axisLine: { show: true, onZero: false, lineStyle: { color: p.axisColor, width: 1.5 } },
      axisTick: { show: true, length: 8, customValues: xTicks, lineStyle: { color: "#222", width: 1.2 } },
      axisLabel: { show: false }, splitLine: { show: false },
    });
    const yCommon = (ticks: number[]) => ({
      type: "value",
      axisLine: { show: true, onZero: false, lineStyle: { color: p.axisColor, width: 1.5 } },
      axisTick: { show: true, length: 11, customValues: ticks, lineStyle: { color: "#333", width: 1.3 } },
      axisLabel: {
        show: true, customValues: ticks, margin: 16, fontSize: 13, fontWeight: "bold",
        color: "#333", fontFamily: FONT, formatter: (v: number) => String(v),
      },
      splitLine: { show: false },
    });
    yAxis.push({ gridIndex: t, min: p.topRange[0], max: p.topRange[1], ...yCommon(topTicks) });
    yAxis.push({ gridIndex: b, min: p.bottomRange[0], max: p.bottomRange[1], ...yCommon(bottomTicks) });

    series.push(bandSeries(p, t), bandSeries(p, b), labelSeries(p, t));
    series.push(boxSeries(p.top, p, t), boxSeries(p.bottom, p, b));
    series.push(lineSeries(p.topBlue, BLUE, t, true), lineSeries(p.topRed, RED, t, true));
    series.push(lineSeries(p.bottomBlue, BLUE, b, false), lineSeries(p.bottomRed, RED, b, false));
    series.push(dotSeries(p.top, t), dotSeries(p.bottom, b));

    graphic.push({
      type: "text", left: 11, top: p.letterY,
      style: { text: p.name, fontSize: 22, fontWeight: "bold", fontFamily: FONT, fill: "#111" },
    });
    graphic.push({ type: "polygon", shape: { points: starPoints(32, p.starY) }, style: { fill: "#111" } });
    const gapTop = p.topGrid[0] + p.topGrid[1];
    graphic.push({
      type: "line", shape: { x1: p.left, y1: gapTop, x2: p.left, y2: p.bottomGrid[0] },
      style: { stroke: p.axisColor, lineWidth: 1.5 },
    });
  });

  return { animation: false, backgroundColor: "#ffffff", grid, xAxis, yAxis, series, graphic };
}

export default function App() {
  const ref = useRef<HTMLDivElement>(null);
  useEffect(() => {
    document.body.style.margin = "0";
    if (!ref.current) return;
    const chart = echarts.init(ref.current, undefined, { renderer: "svg" });
    chart.setOption(buildOption() as any);
    return () => chart.dispose();
  }, []);
  return <div ref={ref} style={{ width: 970, height: 1552 }} />;
}
